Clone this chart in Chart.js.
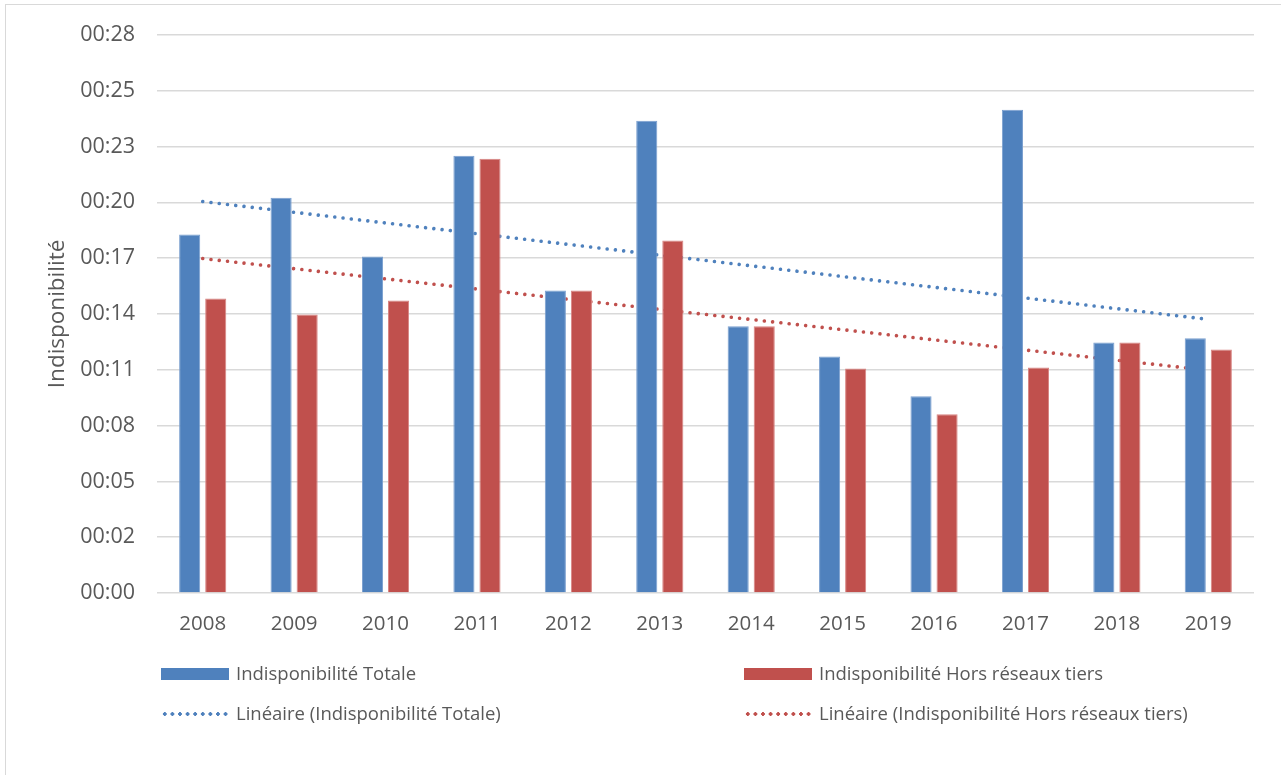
<!DOCTYPE html>
<html>
<head>
<meta charset="utf-8">
<script src="https://cdn.jsdelivr.net/npm/chart.js@4/dist/chart.umd.min.js"></script>
<style>
  html, body { margin: 0; padding: 0; background: #fff; overflow: hidden; }
  #wrap { position: relative; width: 1281px; height: 775px; }
  #frame { position: absolute; left: 5px; top: 4px; width: 1300px; height: 800px; border: 1px solid #d9d9d9; box-sizing: border-box; }
  canvas { position: absolute; left: 0; top: 0; }
  .leg { position: absolute; font-family: "Open Sans", sans-serif; font-size: 18.5px; color: #595959; white-space: nowrap; line-height: 20px; }
  .sw { position: absolute; }
</style>
</head>
<body>
<div id="wrap">
  <div id="frame"></div>
  <canvas id="c" width="1281" height="775"></canvas>
</div>
<script>
// ---- data (minutes) ----
const years = ["2008","2009","2010","2011","2012","2013","2014","2015","2016","2017","2018","2019"];
const totale = [18.5, 20.4, 17.36, 22.57, 15.61, 24.37, 13.76, 12.21, 10.15, 24.94, 12.93, 13.14];
const horsTiers = [15.2, 14.37, 15.1, 22.41, 15.61, 18.19, 13.76, 11.59, 9.22, 11.64, 12.93, 12.57];
// linear trend end values (first year, last year)
const trendTotale = [20.2, 14.12];
const trendHorsTiers = [17.26, 11.49];
const yTicks = [0, 2.88, 5.76, 8.64, 11.52, 14.4, 17.28, 20.16, 23.04, 25.92, 28.8];
const seriesNames = ["Indisponibilité Totale", "Indisponibilité Hors réseaux tiers",
  "Linéaire (Indisponibilité Totale)", "Linéaire (Indisponibilité Hors réseaux tiers)"];

const BLUE = "#4f81bd", RED = "#c0504d";
function endsOnly(pair){ const a = years.map(() => null); a[0] = pair[0]; a[a.length-1] = pair[1]; return a; }
function fmt(v){ const m = Math.floor(v + 1e-6); return "00:" + String(m).padStart(2, "0"); }

const FONT = "'Open Sans', sans-serif";
new Chart(document.getElementById("c"), {
  data: {
    labels: years,
    datasets: [
      { type: "bar", label: seriesNames[0], data: totale, backgroundColor: BLUE, borderColor: "#7a9fcf", borderWidth: 1, order: 1,
        categoryPercentage: 0.57, barPercentage: 0.81 },
      { type: "bar", label: seriesNames[1], data: horsTiers, backgroundColor: RED, borderColor: "#d88482", borderWidth: 1, order: 1,
        categoryPercentage: 0.57, barPercentage: 0.81 },
      { type: "line", label: seriesNames[2], data: endsOnly(trendTotale), spanGaps: true, borderColor: BLUE, borderWidth: 3.6,
        borderDash: [0.01, 8.3], borderCapStyle: "round", pointRadius: 0, order: 2, fill: false },
      { type: "line", label: seriesNames[3], data: endsOnly(trendHorsTiers), spanGaps: true, borderColor: RED, borderWidth: 3.6,
        borderDash: [0.01, 8.3], borderCapStyle: "round", pointRadius: 0, order: 2, fill: false }
    ]
  },
  options: {
    responsive: false,
    animation: false,
    events: [],
    layout: { padding: { left: 0, right: 27, top: 21, bottom: 0 } },
    plugins: { legend: { display: false }, tooltip: { enabled: false } },
    scales: {
      x: {
        grid: { display: false },
        border: { display: false },
        ticks: { color: "#595959", font: { family: FONT, size: 20.5 }, padding: 11, maxRotation: 0 },
        afterFit: (s) => { s.height = 182; }
      },
      y: {
        min: 0, max: 28.8,
        afterBuildTicks: (s) => { s.ticks = yTicks.map(v => ({ value: v })); },
        grid: { color: "#d9d9d9", lineWidth: 1.5, drawTicks: false },
        border: { display: false },
        ticks: { color: "#595959", font: { family: FONT, size: 21.5 }, padding: 22, callback: (v) => fmt(v) },
        title: { display: true, text: "Indisponibilité", color: "#595959", font: { family: FONT, size: 22.5 }, padding: { top: 44, bottom: 0 } },
        afterFit: (s) => { s.width = 157; }
      }
    }
  }
});

// HTML legend
const wrap = document.getElementById("wrap");
const legItems = [
  { x: 161, y: 674, color: BLUE, kind: "box", text: seriesNames[0] },
  { x: 744, y: 674, color: RED, kind: "box", text: seriesNames[1] },
  { x: 161, y: 714, color: BLUE, kind: "dot", text: seriesNames[2] },
  { x: 744, y: 714, color: RED, kind: "dot", text: seriesNames[3] }
];
legItems.forEach(it => {
  const sw = document.createElement("div");
  sw.className = "sw";
  if (it.kind === "box") {
    sw.style.cssText = `left:${it.x}px;top:${it.y-6}px;width:68px;height:12px;background:${it.color};`;
  } else {
    sw.style.cssText = `left:${it.x}px;top:${it.y-2}px;width:68px;height:4px;background-image:radial-gradient(circle, ${it.color} 1.6px, transparent 1.9px);background-size:7.6px 4px;background-repeat:repeat-x;`;
  }
  wrap.appendChild(sw);
  const t = document.createElement("div");
  t.className = "leg";
  t.style.left = (it.x + 75) + "px";
  t.style.top = (it.y - 11) + "px";
  t.textContent = it.text;
  wrap.appendChild(t);
});
</script>
</body>
</html>
